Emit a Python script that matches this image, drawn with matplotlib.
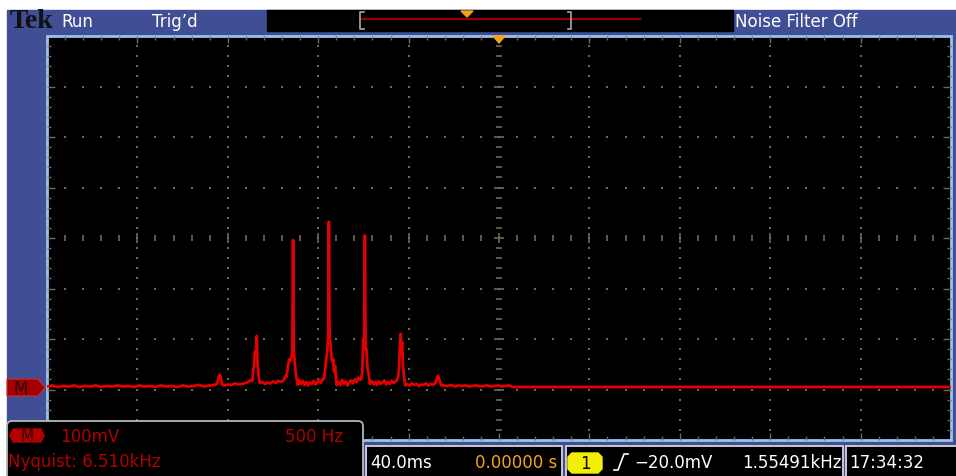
import matplotlib.pyplot as plt
from matplotlib.patches import Rectangle, Polygon, FancyBboxPatch

# FFT trace (Hz, mV above the reference marker)
freq_hz = [0, 30, 60, 90, 120, 150, 180, 210, 240, 270, 300, 330, 360, 390, 420, 450, 480,
           510, 540, 570, 600, 630, 660, 690, 720, 750, 780, 810, 840, 870, 900, 925,
           940, 950, 955, 961, 968,
           980, 1000, 1020, 1040, 1060, 1080, 1100, 1115, 1125,
           1135, 1145, 1150, 1155, 1160, 1164, 1169, 1177,
           1190, 1205, 1220, 1235, 1250, 1265, 1280, 1295, 1310, 1320,
           1325, 1332, 1340, 1346, 1352, 1357, 1361, 1365, 1370, 1375, 1381, 1388,
           1395, 1405, 1415, 1425, 1435, 1445, 1455, 1465, 1475, 1485, 1495, 1505, 1515, 1525,
           1532, 1540, 1545, 1551, 1556, 1559, 1563, 1568, 1573, 1578, 1583, 1588, 1593, 1602,
           1612, 1622, 1632, 1642, 1652, 1662, 1672, 1682, 1692, 1702, 1712, 1722, 1732,
           1738, 1744, 1749, 1754, 1758, 1762, 1767, 1772, 1777, 1786,
           1796, 1806, 1816, 1826, 1836, 1846, 1856, 1866, 1876, 1886, 1896, 1906, 1916, 1926, 1936,
           1942, 1947, 1952, 1956, 1960, 1964, 1969, 1974, 1981,
           1992, 2005, 2018, 2031, 2044, 2057, 2070, 2083, 2096, 2109, 2122, 2135, 2145,
           2150, 2156, 2162, 2168, 2175, 2182,
           2195, 2215, 2235, 2255, 2275, 2295, 2315, 2335, 2355, 2375, 2395, 2415, 2435, 2455,
           2475, 2495, 2515, 2535, 2555, 2575, 5000]
level_mv = [1, 3, 0, 2, 1, 3, 0, 2, 1, 3, 0, 2, 1, 3, 1, 2, 0,
            3, 1, 2, 0, 3, 1, 2, 0, 3, 1, 2, 4, 1, 3, 4,
            6, 20, 24, 20, 5,
            3, 5, 4, 7, 5, 6, 8, 10, 14,
            12, 45, 70, 62, 101, 50, 25, 8,
            10, 6, 9, 7, 11, 8, 12, 10, 14, 22,
            20, 40, 55, 52, 60, 72, 291, 72, 50, 30, 15, 4,
            14, 6, 12, 4, 10, 3, 9, 6, 12, 5, 9, 14, 8, 16,
            16, 40, 56, 75, 110, 327, 95, 85, 60, 50, 55, 30, 42, 4,
            10, 4, 14, 6, 11, 3, 9, 13, 7, 15, 10, 18, 14,
            16, 30, 95, 80, 300, 75, 75, 40, 30, 6,
            12, 5, 10, 4, 11, 6, 9, 13, 5, 10, 6, 12, 8, 10, 14,
            20, 35, 80, 105, 70, 89, 40, 25, 3,
            6, 3, 7, 4, 6, 2, 5, 4, 7, 3, 6, 4, 8,
            8, 18, 22, 18, 8, 3,
            3, 2, 4, 1, 3, 2, 3, 1, 2, 3, 1, 2, 3, 1,
            2, 3, 1, 2, 3, 0, 0]

hz_per_div = 500
mv_per_div = 100

BLUE = '#3f4e95'
EDGE = '#9dc2ea'
GRID = '#6c6c56'
RED = '#b00000'
ORANGE = '#f2a41c'
FONT = ['Liberation Sans Narrow', 'DejaVu Sans']

W, H = 956, 477
fig = plt.figure(figsize=(W / 100, H / 100), dpi=100)
fig.patch.set_facecolor('white')

bg = fig.add_axes([0, 0, 1, 1])
bg.set_xlim(0, W)
bg.set_ylim(H, 0)
bg.axis('off')

# screen frame
bg.add_patch(Rectangle((7, 11), W - 7, H - 11, color=BLUE, zorder=0))

# top bar
bg.add_patch(Rectangle((267, 11), 466, 21, color='black', zorder=1))
bg.plot([361, 640], [20, 20], color='#9a0000', lw=1.6, zorder=2)
bg.plot([364, 360.5, 360.5, 364], [13, 13, 30, 30], color='#a8a8b0', lw=1.2, zorder=3)
bg.plot([568, 571.5, 571.5, 568], [13, 13, 30, 30], color='#a8a8b0', lw=1.2, zorder=3)
bg.add_patch(Polygon([(461, 12), (473, 12), (467, 18)], color=ORANGE, zorder=4))
bg.text(10, 21, 'Tek', family='Liberation Serif', weight='bold', fontsize=20,
        color='#111111', va='center', ha='left', zorder=5)
bg.text(61, 22, 'Run', family=FONT, fontsize=12, color='white', va='center', zorder=5)
bg.text(152, 22, 'Trig\u2019d', family=FONT, fontsize=12, color='white', va='center', zorder=5)
bg.text(735, 22, 'Noise Filter Off', family=FONT, fontsize=12, color='white', va='center', zorder=5)

# graticule
x0, y0, gw, gh = 47, 37, 904, 404
bg.add_patch(Rectangle((x0, y0), gw, gh, facecolor='black', edgecolor=EDGE, lw=2, zorder=1))
dx, dy = gw / 10, gh / 8
xc, yc = x0 + 5 * dx, y0 + 4 * dy

dots_x, dots_y = [], []
for k in range(1, 10):
    if k == 5:
        continue
    for j in range(1, 40):
        dots_x.append(x0 + k * dx)
        dots_y.append(y0 + j * dy / 5)
for k in range(1, 8):
    if k == 4:
        continue
    for j in range(1, 50):
        dots_x.append(x0 + j * dx / 5)
        dots_y.append(y0 + k * dy)
bg.scatter(dots_x, dots_y, s=1.4, marker='s', color=GRID, linewidths=0, zorder=2)

for j in range(1, 50):
    x = x0 + j * dx / 5
    big = j % 5 == 0
    L = 7 if big else 4
    bg.vlines(x, y0, y0 + L, color=GRID, lw=1, zorder=2)
    bg.vlines(x, y0 + gh - L, y0 + gh, color=GRID, lw=1, zorder=2)
    h = 5 if big else 3
    bg.vlines(x, yc - h, yc + h, color=GRID, lw=1.2, zorder=2)
for j in range(1, 40):
    y = y0 + j * dy / 5
    big = j % 5 == 0
    L = 8 if big else 4
    bg.hlines(y, x0, x0 + L, color=GRID, lw=1, zorder=2)
    bg.hlines(y, x0 + gw - L, x0 + gw, color=GRID, lw=1, zorder=2)
    h = 5 if big else 3
    bg.hlines(y, xc - h, xc + h, color=GRID, lw=1.2, zorder=2)

# trigger position marker
bg.add_patch(Polygon([(493, 37), (505, 37), (499, 44)], color=ORANGE, zorder=4))

# reference marker
bg.add_patch(Polygon([(7, 380), (38, 380), (45, 388.5), (38, 397), (7, 397)],
                     facecolor='#a50000', edgecolor='#c83030', lw=0.8, zorder=4))
bg.text(21, 389, 'M', family=FONT, fontsize=12, color='#2a0000', ha='center', va='center', zorder=5)

# bottom readouts
bg.add_patch(FancyBboxPatch((7, 422), 356, 62, boxstyle='round,pad=0,rounding_size=5',
                            facecolor='black', edgecolor='#b8b8b8', lw=1.3, zorder=6))
bg.add_patch(Polygon([(13, 430), (41, 430), (44, 436.5), (41, 443), (13, 443), (10, 436.5)],
                     color=RED, zorder=7))
bg.text(27, 437, 'M', family=FONT, fontsize=11, color='#2a0000', ha='center', va='center', zorder=8)
bg.text(60, 437, '100mV', family=FONT, fontsize=12, color=RED, va='center', zorder=8)
bg.text(285, 437, '500 Hz', family=FONT, fontsize=12, color=RED, va='center', zorder=8)
bg.text(8, 462, 'Nyquist: 6.510kHz', family=FONT, fontsize=12, color=RED, va='center', zorder=8)

for bx, bw in [(366, 196), (566, 277), (846, 115)]:
    bg.add_patch(Rectangle((bx, 447), bw, 34, facecolor='black', edgecolor='#c8c8d2',
                           lw=1.4, zorder=6))
bg.text(370, 463, '40.0ms', family=FONT, fontsize=12, color='white', va='center', zorder=8)
bg.text(557, 463, '0.00000 s', family=FONT, fontsize=12, color=ORANGE, va='center',
        ha='right', zorder=8)
bg.add_patch(Polygon([(572, 454), (598, 454), (602, 458), (602, 470), (598, 474), (572, 474),
                      (568, 470), (568, 458)], color='#f2f000', zorder=7))
bg.text(585, 464, '1', family=FONT, fontsize=12, color='black', ha='center', va='center', zorder=8)
bg.plot([614, 618, 624, 628], [471, 471, 455, 455], color='white', lw=1.2, zorder=8)
bg.text(634, 463, '\u221220.0mV', family=FONT, fontsize=12, color='white', va='center', zorder=8)
bg.text(842, 463, '1.55491kHz', family=FONT, fontsize=12, color='white', va='center',
        ha='right', zorder=8)
bg.text(849, 463, '17:34:32', family=FONT, fontsize=12, color='white', va='center', zorder=8)

# spectrum trace
ax = fig.add_axes([x0 / W, 1 - (y0 + gh) / H, gw / W, gh / H])
ax.patch.set_alpha(0)
ax.set_xlim(0, 10 * hz_per_div)
ax.set_ylim(-1.05 * mv_per_div, 6.95 * mv_per_div)
ax.axis('off')
ax.plot(freq_hz, level_mv, color='#e50000', lw=2)

fig.savefig('out.png', dpi=100, facecolor='white')
